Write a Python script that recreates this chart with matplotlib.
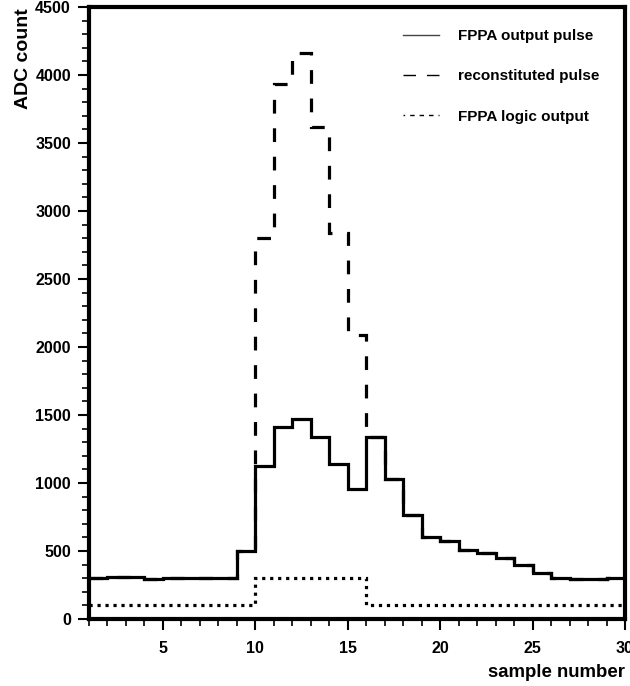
import matplotlib
matplotlib.use("Agg")
import matplotlib.pyplot as plt
from matplotlib.lines import Line2D
from matplotlib.ticker import MultipleLocator
import numpy as np

plt.rcParams['font.family'] = ['Liberation Sans', 'DejaVu Sans']
plt.rcParams['font.weight'] = 'bold'

# Sample bin edges (one bin per ADC sample)
edges = np.arange(1, 31)

# FPPA output pulse (ADC counts per sample)
fppa_output = [298, 307, 307, 293, 300, 305, 300, 300, 500,
               1126, 1412, 1471, 1335, 1140, 953,
               1338, 1027, 766, 603, 576, 505, 485, 451, 399,
               340, 303, 293, 295, 303]

# Reconstituted pulse: high-gain samples rescaled inside the logic window
reconstituted = [298, 307, 307, 293, 300, 305, 300, 300, 500,
                 2805, 3935, 4160, 3615, 2835, 2085,
                 1338, 1027, 766, 603, 576, 505, 485, 451, 399,
                 340, 303, 293, 295, 303]

# FPPA logic output level
logic_output = [100] * 9 + [300] * 6 + [100] * 14

legend_labels = ["FPPA output pulse", "reconstituted pulse", "FPPA logic output"]

fig = plt.figure(figsize=(6.30, 6.86), dpi=100)
ax = fig.add_axes([89 / 630, 67 / 686, 536 / 630, 612 / 686])

lw = 2.3
ax.stairs(reconstituted, edges, color='black', lw=lw,
          linestyle=(0, (4.3, 4.6)), baseline=None)
ax.stairs(logic_output, edges, color='black', lw=lw,
          linestyle=(0, (1.0, 1.5)), baseline=None)
ax.stairs(fppa_output, edges, color='black', lw=lw, baseline=None)

ax.set_xlim(1, 30)
ax.set_ylim(0, 4500)

ax.xaxis.set_major_locator(MultipleLocator(5))
ax.xaxis.set_minor_locator(MultipleLocator(1))
ax.yaxis.set_major_locator(MultipleLocator(500))
ax.yaxis.set_minor_locator(MultipleLocator(100))

ax.tick_params(which='major', direction='out', length=8, width=1.5,
               labelsize=11.5, pad=5)
ax.tick_params(which='minor', direction='out', length=5, width=1.2)
ax.tick_params(axis='x', which='major', pad=8)
ax.set_xticks([5, 10, 15, 20, 25, 30])
ax.set_xticklabels(['5', '10', '15', '20', '25', '30'], fontweight='bold')
for lab in ax.get_yticklabels():
    lab.set_fontweight('bold')

for sp in ax.spines.values():
    sp.set_linewidth(3.0)

ax.set_xlabel("sample number", fontsize=13.4, fontweight='bold', loc='right')
ax.xaxis.set_label_coords(1.0, -0.074)
ax.set_ylabel("ADC count", fontsize=14, fontweight='bold', loc='top')
ax.yaxis.set_label_coords(-0.106, 0.998)

handles = [
    Line2D([], [], color='#444444', lw=1.0),
    Line2D([], [], color='black', lw=1.0, linestyle=(0, (9, 7.9))),
    Line2D([], [], color='black', lw=1.0, linestyle=(2, (3.2, 3.6))),
]
ax.legend(handles, legend_labels, loc='upper left',
          bbox_to_anchor=(0.586, 0.964), frameon=False,
          prop={'weight': 'bold', 'size': 11}, handlelength=2.35,
          handletextpad=1.25, labelspacing=1.72, borderpad=0,
          borderaxespad=0)

fig.savefig("out.png", dpi=100)
